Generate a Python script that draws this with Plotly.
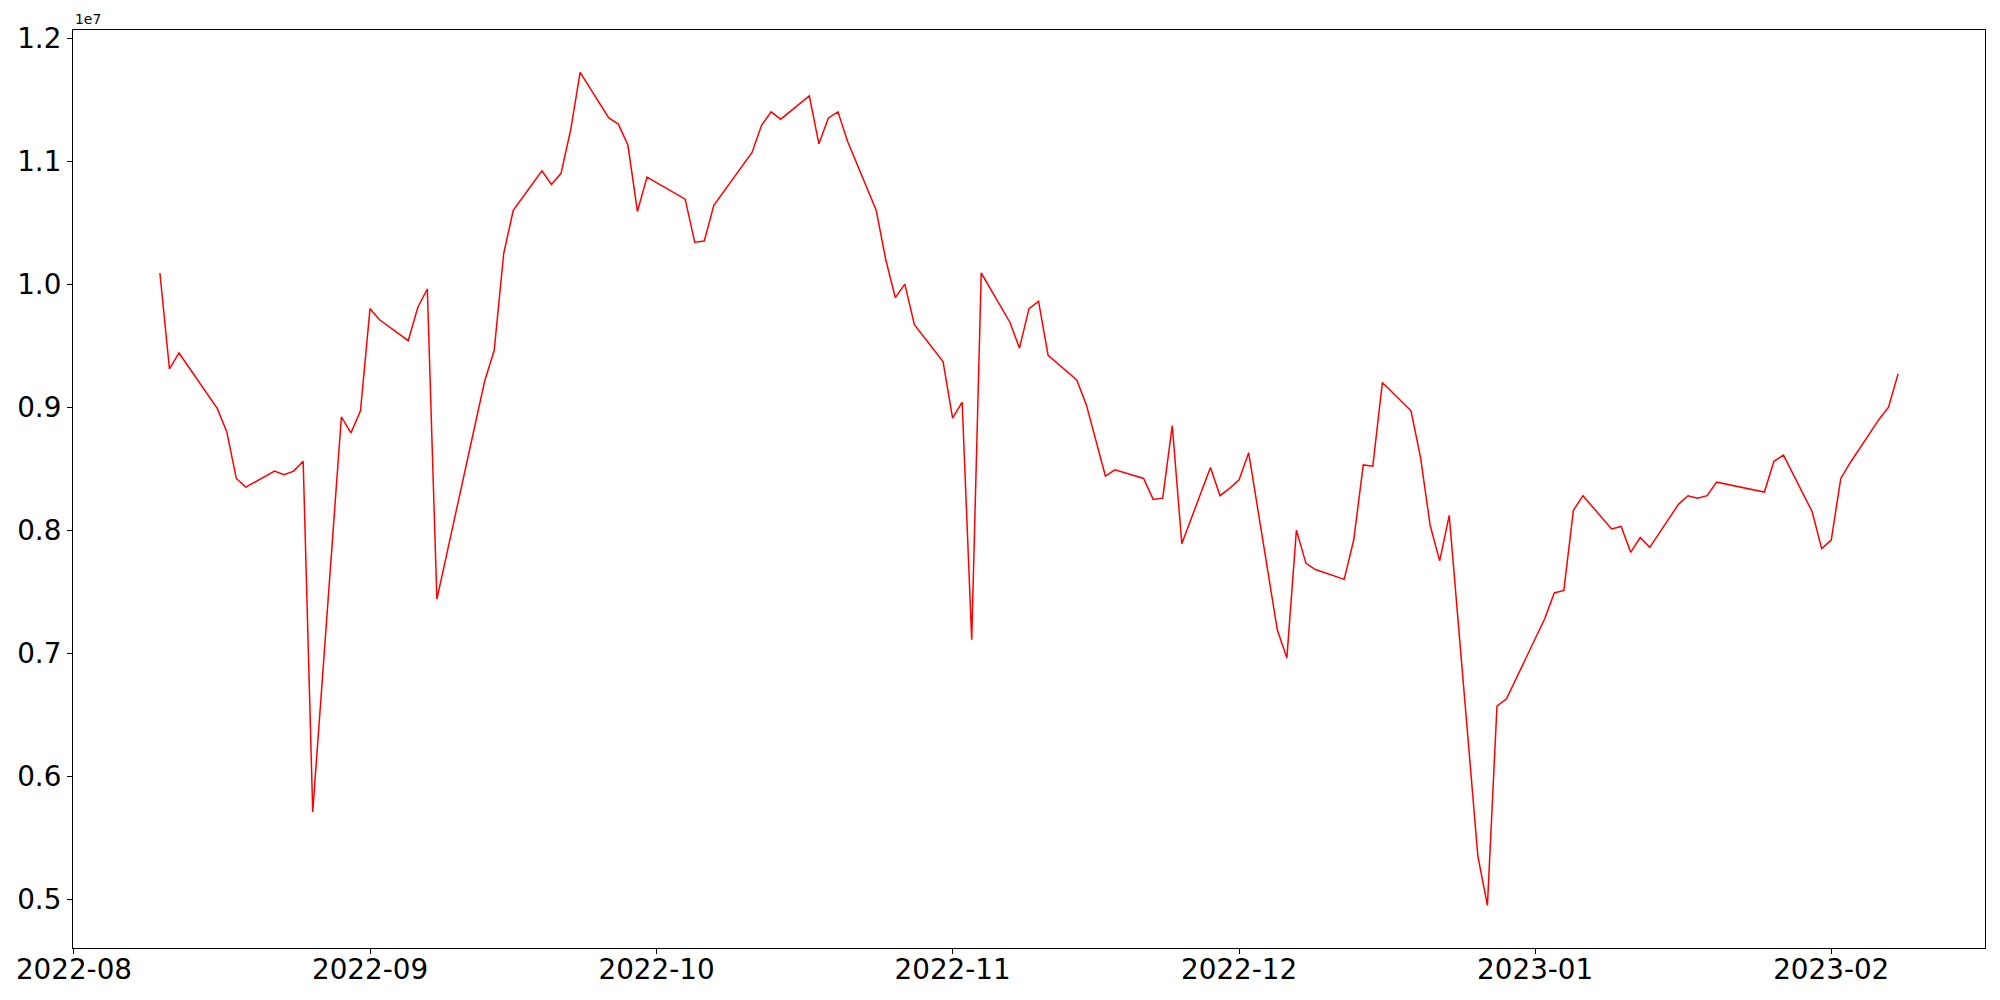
import plotly.graph_objects as go

dates = [
    "2022-08-10", "2022-08-11", "2022-08-12", "2022-08-16", "2022-08-17", "2022-08-18", "2022-08-19",
    "2022-08-22", "2022-08-23", "2022-08-24", "2022-08-25", "2022-08-26",
    "2022-08-29", "2022-08-30", "2022-08-31", "2022-09-01", "2022-09-02",
    "2022-09-05", "2022-09-06", "2022-09-07", "2022-09-08",
    "2022-09-13", "2022-09-14", "2022-09-15", "2022-09-16",
    "2022-09-19", "2022-09-20", "2022-09-21", "2022-09-22", "2022-09-23",
    "2022-09-26", "2022-09-27", "2022-09-28", "2022-09-29", "2022-09-30",
    "2022-10-04", "2022-10-05", "2022-10-06", "2022-10-07",
    "2022-10-11", "2022-10-12", "2022-10-13", "2022-10-14",
    "2022-10-17", "2022-10-18", "2022-10-19", "2022-10-20", "2022-10-21",
    "2022-10-24", "2022-10-25", "2022-10-26", "2022-10-27", "2022-10-28",
    "2022-10-31", "2022-11-01", "2022-11-02", "2022-11-03", "2022-11-04",
    "2022-11-07", "2022-11-08", "2022-11-09", "2022-11-10", "2022-11-11",
    "2022-11-14", "2022-11-15", "2022-11-16", "2022-11-17", "2022-11-18",
    "2022-11-21", "2022-11-22", "2022-11-23", "2022-11-24", "2022-11-25",
    "2022-11-28", "2022-11-29", "2022-11-30", "2022-12-01", "2022-12-02",
    "2022-12-05", "2022-12-06", "2022-12-07", "2022-12-08", "2022-12-09",
    "2022-12-12", "2022-12-13", "2022-12-14", "2022-12-15", "2022-12-16",
    "2022-12-19", "2022-12-20", "2022-12-21", "2022-12-22", "2022-12-23",
    "2022-12-26", "2022-12-27", "2022-12-28", "2022-12-29",
    "2023-01-02", "2023-01-03", "2023-01-04", "2023-01-05", "2023-01-06",
    "2023-01-09", "2023-01-10", "2023-01-11", "2023-01-12", "2023-01-13",
    "2023-01-16", "2023-01-17", "2023-01-18", "2023-01-19", "2023-01-20",
    "2023-01-25", "2023-01-26", "2023-01-27",
    "2023-01-30", "2023-01-31", "2023-02-01", "2023-02-02", "2023-02-03",
    "2023-02-06", "2023-02-07", "2023-02-08",
]

values = [
    10090000, 9310000, 9440000, 8990000, 8800000, 8420000, 8350000,
    8480000, 8450000, 8480000, 8560000, 5710000,
    8920000, 8790000, 8970000, 9800000, 9710000,
    9540000, 9810000, 9960000, 7440000,
    9210000, 9460000, 10250000, 10600000,
    10920000, 10810000, 10900000, 11250000, 11720000,
    11350000, 11300000, 11130000, 10590000, 10870000,
    10690000, 10340000, 10350000, 10640000,
    11070000, 11290000, 11400000, 11340000,
    11530000, 11140000, 11350000, 11400000, 11160000,
    10600000, 10200000, 9890000, 10000000, 9670000,
    9370000, 8910000, 9040000, 7110000, 10090000,
    9690000, 9480000, 9800000, 9860000, 9420000,
    9220000, 9020000, 8730000, 8440000, 8490000,
    8420000, 8250000, 8260000, 8850000, 7890000,
    8510000, 8280000, 8340000, 8410000, 8630000,
    7190000, 6960000, 8000000, 7730000, 7680000,
    7600000, 7920000, 8530000, 8520000, 9200000,
    8970000, 8590000, 8040000, 7750000, 8120000,
    5350000, 4950000, 6570000, 6630000,
    7280000, 7490000, 7510000, 8160000, 8280000,
    8010000, 8030000, 7820000, 7940000, 7860000,
    8210000, 8280000, 8260000, 8280000, 8390000,
    8310000, 8560000, 8610000,
    8150000, 7850000, 7920000, 8420000, 8550000,
    8900000, 9000000, 9270000,
]

x_tick_vals = ["2022-08-01", "2022-09-01", "2022-10-01", "2022-11-01",
               "2022-12-01", "2023-01-01", "2023-02-01"]
x_tick_text = ["2022-08", "2022-09", "2022-10", "2022-11", "2022-12", "2023-01", "2023-02"]
y_tick_vals = [5000000, 6000000, 7000000, 8000000, 9000000, 10000000, 11000000, 12000000]
y_tick_text = ["0.5", "0.6", "0.7", "0.8", "0.9", "1.0", "1.1", "1.2"]

FONT = "DejaVu Sans"

fig = go.Figure()
fig.add_trace(go.Scatter(
    x=dates, y=values, mode="lines",
    line=dict(color="#ff0000", width=1.5),
    showlegend=False,
))

axis_common = dict(
    showgrid=False, zeroline=False, automargin=False,
    showline=True, linecolor="black", linewidth=1.1, mirror=True,
    ticks="outside", ticklen=5, tickwidth=1.1, tickcolor="black",
    tickfont=dict(family=FONT, size=27.8, color="black"),
)

# the page places the figure 8px from the top-left corner (body margin)
fig.update_layout(
    width=1984, height=984,
    margin=dict(l=64.5, r=7, t=22.3, b=44, autoexpand=False),
    paper_bgcolor="white", plot_bgcolor="white",
    xaxis=dict(
        type="date",
        range=["2022-07-31 21:36", "2023-02-17 02:24"],
        tickmode="array", tickvals=x_tick_vals, ticktext=x_tick_text,
        ticklabelstandoff=-8,
        **axis_common,
    ),
    yaxis=dict(
        range=[4604000, 12065000],
        tickmode="array", tickvals=y_tick_vals, ticktext=y_tick_text,
        **axis_common,
    ),
    annotations=[dict(
        text="1e7", xref="paper", yref="paper", x=0, y=1,
        xanchor="left", yanchor="bottom", yshift=1, showarrow=False,
        font=dict(family=FONT, size=13.9, color="black"),
    )],
)

fig.write_html("out.html")
